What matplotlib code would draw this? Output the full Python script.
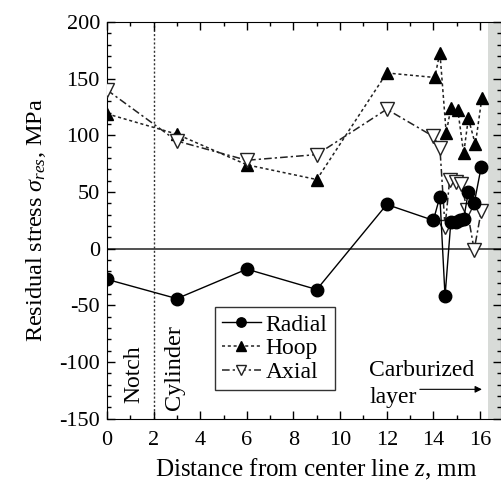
import matplotlib
matplotlib.use('Agg')
import matplotlib.pyplot as plt
from matplotlib.ticker import MultipleLocator

plt.rcParams['font.family'] = 'Liberation Serif'
plt.rcParams['mathtext.fontset'] = 'custom'
plt.rcParams['mathtext.rm'] = 'Liberation Serif'
plt.rcParams['mathtext.it'] = 'Liberation Serif:italic'
plt.rcParams['axes.unicode_minus'] = False

# Radial stress
z_rad = [0, 3, 6, 9, 12, 14.0, 14.28, 14.5, 14.75, 14.95, 15.15, 15.3, 15.5, 15.75, 16.05]
s_rad = [-27, -44, -18, -36, 39, 25, 46, -42, 24, 24, 25.5, 26.5, 50, 40, 72]

# Hoop stress
z_hoop = [0, 3, 6, 9, 12, 14.06, 14.28, 14.55, 14.75, 15.05, 15.3, 15.5, 15.8, 16.08]
s_hoop = [119, 101, 74, 61, 155, 151, 173, 102, 124, 122, 84, 115, 92, 133]

# Axial stress
z_ax = [0, 3, 6, 9, 12, 14.0, 14.28, 14.5, 14.7, 14.95, 15.2, 15.45, 15.75, 16.05]
s_ax = [140, 95, 78, 83, 123, 99, 89, 19, 61, 59, 57, 34, -1, 33]

fig = plt.figure(figsize=(5.02, 4.87), dpi=100)
ax = fig.add_axes([0.213, 0.140, 0.785, 0.815])

ax.axvspan(16.35, 16.9, color='#d8dbd8', lw=0, zorder=0)
ax.axhline(0, color='#333333', lw=1.2, zorder=1)
ax.axvline(2, color='#333333', lw=1, ls=(0, (1.5, 1.5)), zorder=1)

ax.plot(z_rad, s_rad, '-', color='black', lw=1, marker='o', ms=9, label='Radial', zorder=4)
ax.plot(z_hoop, s_hoop, color='#222222', lw=1.1, ls=(0, (2, 1.8)), marker='^', ms=9,
        mfc='black', mec='black', label='Hoop', zorder=3)
ax.plot(z_ax, s_ax, color='#222222', lw=1.1, ls=(0, (5, 2, 1.5, 2)), marker='v', ms=9.5,
        mfc='white', mec='#222222', mew=1, label='Axial', zorder=3)

ax.set_xlim(0, 16.9)
ax.set_ylim(-150, 200)
ax.xaxis.set_major_locator(MultipleLocator(2))
ax.xaxis.set_minor_locator(MultipleLocator(1))
ax.yaxis.set_major_locator(MultipleLocator(50))
ax.yaxis.set_minor_locator(MultipleLocator(10))
ax.tick_params(which='both', direction='in', top=True, right=True, labelsize=16, width=1)
ax.tick_params(which='major', length=6)
ax.tick_params(which='minor', length=3)
ax.tick_params(axis='x', pad=9)
ax.tick_params(axis='y', pad=5)

ax.set_xlabel(r'Distance from center line $z$, mm', fontsize=18)
ax.xaxis.set_label_coords(0.53, -0.095)
ax.set_ylabel(r'Residual stress $\sigma_{res}$, MPa', fontsize=17.5, labelpad=8)

ax.text(1.16, -136, 'Notch', rotation=90, fontsize=17, ha='center', va='bottom')
ax.text(2.9, -142, 'Cylinder', rotation=90, fontsize=17.5, ha='center', va='bottom')

ax.text(11.25, -112, 'Carburized', fontsize=17, ha='left', va='baseline')
ax.text(11.25, -136, 'layer', fontsize=17, ha='left', va='baseline')
ax.annotate('', xy=(16.2, -124), xytext=(13.3, -124),
            arrowprops=dict(arrowstyle='-|>', color='black', lw=0.8, mutation_scale=10))

leg = ax.legend(loc='upper left', bbox_to_anchor=(0.274, 0.282), fontsize=17, frameon=True,
                fancybox=False, edgecolor='black', handlelength=1.65, handletextpad=0.2,
                labelspacing=0.1, borderpad=0.3, borderaxespad=0, markerscale=0.75)
leg.get_frame().set_linewidth(1)

fig.savefig('out.png', dpi=100)
